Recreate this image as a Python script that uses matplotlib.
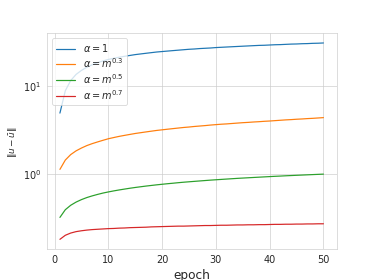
import matplotlib
matplotlib.use("Agg")
import matplotlib.pyplot as plt
import seaborn as sns

epochs = list(range(1, 51))

alpha_1 = [4.9, 8.8, 11.5, 13.5, 15.0, 16.3, 17.4, 18.4, 19.2, 20.0,
           20.6, 21.2, 21.7, 22.2, 22.7, 23.1, 23.5, 23.9, 24.3, 24.6,
           24.9, 25.2, 25.5, 25.8, 26.1, 26.3, 26.6, 26.8, 27.0, 27.3,
           27.5, 27.7, 27.9, 28.1, 28.3, 28.5, 28.7, 28.9, 29.0, 29.2,
           29.4, 29.5, 29.7, 29.9, 30.0, 30.2, 30.3, 30.5, 30.6, 30.8]

alpha_m03 = [1.12, 1.43, 1.65, 1.82, 1.96, 2.09, 2.20, 2.30, 2.40, 2.50,
             2.58, 2.66, 2.73, 2.80, 2.87, 2.93, 2.99, 3.05, 3.11, 3.16,
             3.21, 3.26, 3.31, 3.36, 3.40, 3.45, 3.49, 3.53, 3.58, 3.62,
             3.66, 3.69, 3.73, 3.77, 3.81, 3.84, 3.88, 3.91, 3.95, 3.98,
             4.02, 4.06, 4.10, 4.13, 4.17, 4.20, 4.24, 4.27, 4.31, 4.35]

alpha_m05 = [0.318, 0.389, 0.437, 0.475, 0.507, 0.535, 0.559, 0.581, 0.602, 0.620,
             0.637, 0.653, 0.668, 0.683, 0.697, 0.710, 0.723, 0.735, 0.747, 0.758,
             0.769, 0.779, 0.790, 0.800, 0.809, 0.818, 0.827, 0.836, 0.845, 0.853,
             0.861, 0.869, 0.877, 0.885, 0.892, 0.899, 0.906, 0.913, 0.920, 0.927,
             0.934, 0.940, 0.947, 0.953, 0.959, 0.965, 0.971, 0.977, 0.983, 0.989]

alpha_m07 = [0.179, 0.199, 0.211, 0.219, 0.224, 0.228, 0.231, 0.233, 0.235, 0.237,
             0.238, 0.240, 0.241, 0.243, 0.244, 0.245, 0.246, 0.248, 0.249, 0.250,
             0.251, 0.252, 0.253, 0.253, 0.254, 0.255, 0.256, 0.257, 0.257, 0.258,
             0.259, 0.259, 0.260, 0.261, 0.261, 0.262, 0.262, 0.263, 0.263, 0.264,
             0.265, 0.265, 0.266, 0.266, 0.267, 0.267, 0.268, 0.268, 0.269, 0.269]

labels = [r"$\alpha = 1$", r"$\alpha = m^{0.3}$", r"$\alpha = m^{0.5}$", r"$\alpha = m^{0.7}$"]
series = [alpha_1, alpha_m03, alpha_m05, alpha_m07]
colors = ["#1f77b4", "#ff7f0e", "#2ca02c", "#d62728"]

sns.set_style("whitegrid")
plt.rcParams['font.family'] = ['DejaVu Sans']

fig, ax = plt.subplots(figsize=(6.4, 4.8), dpi=58.44)
for s, lab, c in zip(series, labels, colors):
    ax.plot(epochs, s, label=lab, color=c, linewidth=1.5)
ax.set_yscale("log")
ax.tick_params(axis="both", labelsize=12)
ax.set_xlabel("epoch", fontsize=15)
ax.set_ylabel(r"$\|u - \bar{u}\|$", fontsize=11)
ax.legend(loc="upper left", fontsize=12, labelspacing=0.2)
fig.savefig("out.png", dpi=58.44)
